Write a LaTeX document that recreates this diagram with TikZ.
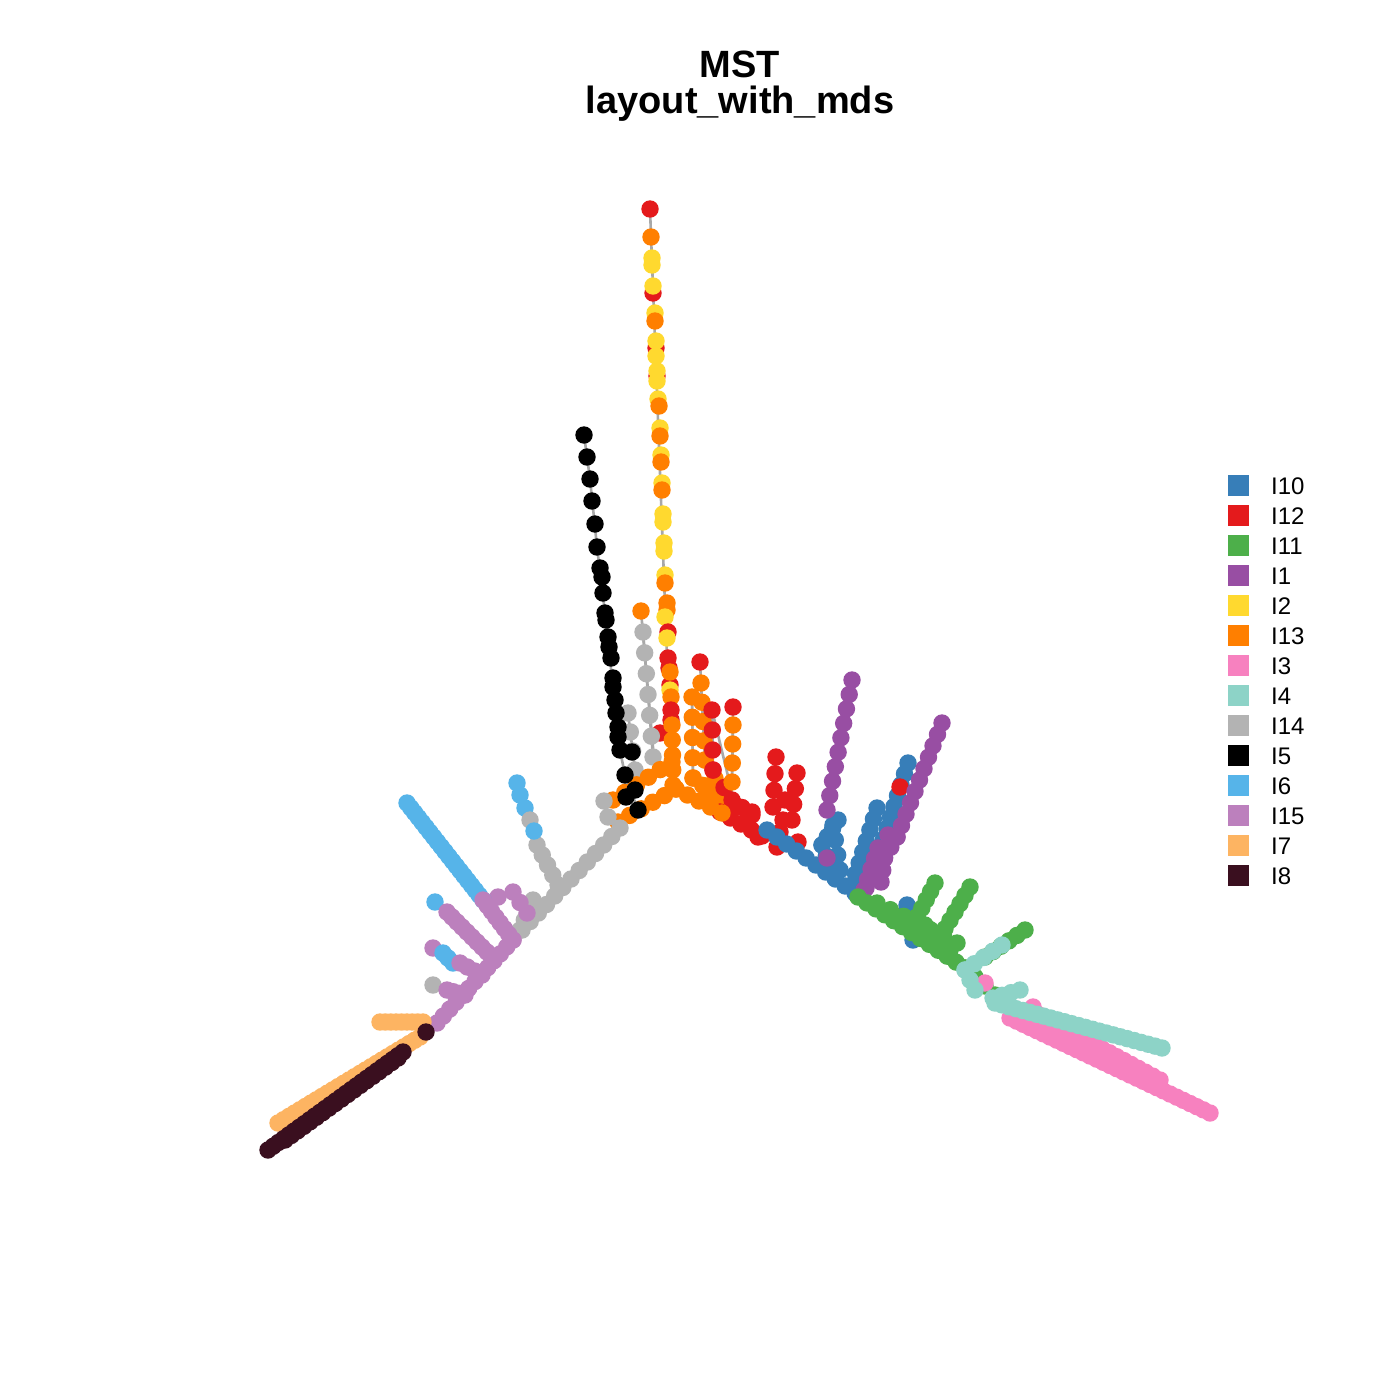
\documentclass[tikz,border=0pt]{standalone}
\usepackage{fontspec}
\setmainfont{Liberation Sans}
\definecolor{cA}{HTML}{377EB8}
\definecolor{cB}{HTML}{E41A1C}
\definecolor{cC}{HTML}{4DAF4A}
\definecolor{cD}{HTML}{984EA3}
\definecolor{cE}{HTML}{FFD92F}
\definecolor{cF}{HTML}{FF7F00}
\definecolor{cG}{HTML}{F781BF}
\definecolor{cH}{HTML}{8DD3C7}
\definecolor{cI}{HTML}{B3B3B3}
\definecolor{cJ}{HTML}{000000}
\definecolor{cK}{HTML}{56B4E9}
\definecolor{cL}{HTML}{BC80BD}
\definecolor{cM}{HTML}{FDB462}
\definecolor{cN}{HTML}{3A0F1F}
\definecolor{edgec}{HTML}{A8A8A8}
\newif\ifedgepass
\newcommand\ch[6]{\ifedgepass\draw[edgeln] (#2,#3) -- (#4,#5);\else
  \foreach \i in {0,...,#6}{\pgfmathsetmacro\myt{\i/#6}\fill[#1] ({#2+(#4-#2)*\myt},{#3+(#5-#3)*\myt}) circle[radius=8.7];}\fi}
\newcommand\dt[3]{\ifedgepass\else\fill[#1] (#2,#3) circle[radius=8.7];\fi}
\newcommand\ed[4]{\ifedgepass\draw[edgeln] (#1,#2) -- (#3,#4);\fi}
\newcommand\allchains{%
% top vertical arm
\ed{650}{209}{672}{790}
\dt{cB}{650}{209}
\dt{cF}{651}{237}
\dt{cE}{652}{258}\dt{cE}{652}{265}
\dt{cB}{653}{293}\dt{cE}{653}{286}
\dt{cE}{655}{313}\dt{cF}{655}{321}
\dt{cB}{656}{348}\dt{cE}{656}{341}\dt{cE}{656}{356}
\dt{cB}{657}{376}\dt{cE}{657}{371}\dt{cE}{657}{381}
\dt{cE}{658}{399}\dt{cF}{659}{406}
\dt{cE}{660}{428}\dt{cF}{660}{436}
\dt{cE}{661}{455}\dt{cF}{661}{462}
\dt{cE}{662}{483}\dt{cF}{662}{490}
\dt{cE}{663}{514}\dt{cE}{663}{522}
\dt{cE}{664}{543}\dt{cE}{664}{551}
\dt{cE}{665}{575}\dt{cF}{665}{583}
\dt{cF}{667}{603}\dt{cF}{667}{610}\dt{cE}{665}{617}
\dt{cB}{668}{632}\dt{cE}{667}{638}
\dt{cB}{668}{658}\dt{cB}{669}{668}\dt{cB}{670}{685}
\dt{cF}{670}{672}\dt{cE}{670}{690}\dt{cF}{671}{697}
\dt{cB}{671}{710}\dt{cB}{671}{720}\dt{cB}{660}{733}
\ch{cF}{672}{725}{673}{785}{4}
% gray column
\ed{641}{611}{655}{770}
\dt{cF}{641}{611}
\ch{cI}{643}{632}{653}{757}{6}
\ch{cI}{628}{713}{635}{770}{3}
% orange columns right of centre
\ed{692}{697}{693}{778}\ed{693}{778}{722}{800}
\ch{cF}{692}{697}{693}{778}{4}\ch{cF}{693}{778}{722}{800}{3}
\dt{cB}{700}{662}
\ed{700}{662}{705}{760}\ed{705}{760}{725}{797}
\ch{cF}{701}{683}{705}{760}{4}\ch{cF}{705}{760}{725}{797}{2}
\ed{712}{710}{735}{805}
\ch{cB}{712}{710}{713}{770}{3}\ch{cB}{713}{770}{735}{805}{2}
\ed{733}{707}{732}{782}
\dt{cB}{733}{707}\ch{cF}{733}{725}{732}{782}{3}
% red diagonals
\ch{cB}{720}{812}{762}{836}{4}
\ch{cB}{732}{800}{752}{815}{2}
% red cluster
\ch{cB}{776}{757}{773}{807}{3}
\ch{cB}{797}{773}{792}{820}{3}
\dt{cB}{783}{820}\dt{cB}{780}{832}\dt{cB}{798}{842}\dt{cB}{777}{847}\dt{cB}{752}{812}\dt{cB}{758}{837}\dt{cB}{785}{800}
% orange centre V
\ch{cF}{672}{762}{613}{800}{5}
\ch{cF}{676}{789}{618}{822}{5}
\ch{cF}{676}{789}{722}{813}{4}
% lower-left gray main
\dt{cI}{604}{801}\dt{cI}{608}{817}
\ch{cI}{620}{828}{522}{930}{12}
% black chain
\ifedgepass\draw[edgeln] plot coordinates {(584,435) (590,479) (597,547) (605,613) (613,687) (620,750) (625,775) (638,810)};\fi
\foreach \x/\y in {584/435,587/457,590/479,592/501,595/524,597/547,600/568,602/577,603/593,605/613,606/620,608/637,609/647,611/658,613/678,613/687,615/700,616/713,618/727,618/737,620/750,632/752,625/775,635/790,626/797,638/810}{\dt{cJ}{\x}{\y}}
% gray branch with light blue tip
\ed{517}{783}{558}{885}
\dt{cK}{517}{783}\dt{cK}{520}{795}\dt{cK}{525}{808}\dt{cI}{530}{820}
\ch{cI}{537}{845}{558}{885}{4}\dt{cK}{534}{831}
% small cluster
\ch{cI}{533}{900}{520}{930}{3}
\dt{cL}{498}{897}\ch{cL}{513}{892}{527}{913}{2}
% lilac branches
\ch{cK}{407}{803}{483}{900}{20}
\ch{cL}{483}{900}{513}{940}{7}
\dt{cK}{435}{902}\ch{cL}{447}{912}{492}{957}{9}
\dt{cL}{433}{948}\ch{cK}{443}{953}{453}{963}{2}\ch{cL}{460}{963}{482}{975}{3}
\dt{cI}{433}{985}\ch{cL}{447}{990}{465}{995}{3}
\ch{cL}{513}{940}{437}{1023}{12}
% light orange and dark
\ch{cM}{380}{1022}{423}{1022}{8}
\ch{cM}{420}{1037}{278}{1123}{26}
\ch{cN}{403}{1052}{268}{1150}{26}
\ch{cN}{398}{1058}{285}{1140}{18}
\dt{cN}{426}{1032}
% right arm: blue
\ch{cA}{767}{830}{855}{893}{9}
\ch{cA}{838}{820}{822}{845}{3}\ch{cA}{822}{845}{835}{878}{3}\ch{cA}{833}{825}{840}{870}{3}
\ch{cD}{852}{680}{827}{810}{9}
\dt{cD}{827}{858}
\ch{cA}{908}{763}{880}{850}{8}
\ch{cA}{877}{808}{852}{885}{7}
\dt{cB}{900}{787}
\ch{cD}{942}{723}{897}{837}{10}
\ch{cD}{897}{837}{866}{888}{5}
\ch{cD}{888}{835}{881}{882}{4}
\ch{cD}{878}{848}{864}{890}{4}
% green
\dt{cA}{907}{905}\dt{cA}{913}{940}
\ch{cC}{858}{897}{965}{968}{12}
\ch{cC}{877}{903}{957}{943}{6}
\ch{cC}{935}{883}{913}{925}{5}
\ch{cC}{970}{887}{940}{937}{6}
\ch{cC}{1025}{930}{985}{957}{5}
\ch{cC}{965}{968}{995}{995}{3}
\ch{cC}{915}{918}{950}{950}{4}\ch{cC}{925}{925}{940}{945}{2}
% pink
\dt{cG}{985}{983}
\ch{cG}{1010}{1018}{1210}{1113}{30}
\ch{cG}{1030}{1010}{1160}{1080}{18}
\dt{cG}{1100}{1052}\dt{cG}{1033}{1007}
% teal
\ch{cH}{1002}{945}{965}{970}{4}
\ch{cH}{965}{970}{975}{990}{2}
\ch{cH}{1020}{990}{993}{998}{3}
\ch{cH}{995}{1003}{1162}{1048}{24}
}
\begin{document}
\begin{tikzpicture}[x=1pt,y=-1pt,
  edgeln/.style={draw=edgec,line width=2.6pt},
  legtext/.style={anchor=base west,inner sep=0pt,font=\fontsize{24}{24}\selectfont},
  titletext/.style={anchor=base,inner sep=0pt,font=\fontsize{38}{38}\selectfont\bfseries}]
\fill[white] (0,0) rectangle (1400,1400);
\useasboundingbox (0,0) rectangle (1400,1400);
\node[titletext] (title1) at (740,77) {MST};
\node[titletext] (title2) at (740,113) {layout\_with\_mds};
\edgepasstrue\allchains
\edgepassfalse\allchains
\foreach \c/\t [count=\k from 0] in {cA/I10,cB/I12,cC/I11,cD/I1,cE/I2,cF/I13,cG/I3,cH/I4,cI/I14,cJ/I5,cK/I6,cL/I15,cM/I7,cN/I8}{
  \fill[\c] (1228,{475+30*\k}) rectangle (1249,{496+30*\k});
  \node[legtext] (leg\k) at (1271,{494+30*\k}) {\t};
}
\end{tikzpicture}
\end{document}
